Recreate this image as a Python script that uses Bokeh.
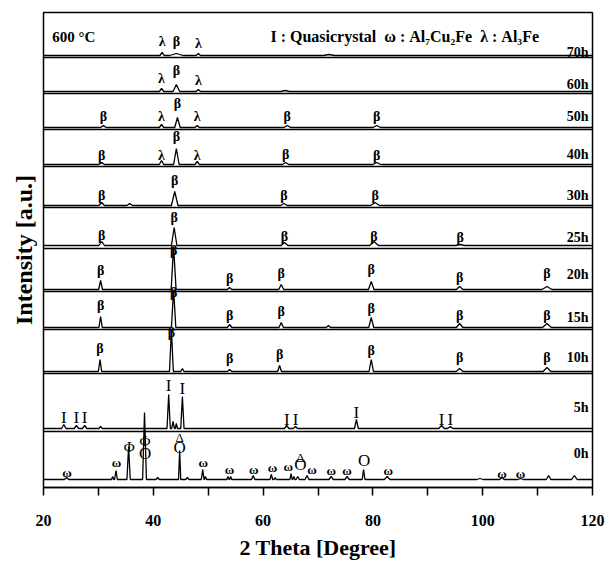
from bokeh.plotting import figure
from bokeh.models import FixedTicker, Label
from bokeh.core.properties import value
from bokeh.embed import file_html
from bokeh.resources import INLINE

# ---------------- data ----------------
samples = ["0h", "5h", "10h", "15h", "20h", "25h", "30h", "40h", "50h", "60h", "70h"]

# peaks: (2theta [deg], height [a.u. ~ px], half base width [deg])
peaks_0h = [(24.2, 2, 0.4), (32.6, 3, 0.2), (33.2, 9, 0.25), (35.5, 33, 0.3), (38.4, 67, 0.35),
            (40.8, 2, 0.3), (44.8, 29, 0.2), (46.2, 2, 0.3), (49.0, 10, 0.25), (49.5, 3, 0.2),
            (53.6, 3, 0.2), (54.1, 3, 0.2), (58.2, 4, 0.3), (61.5, 5, 0.25), (62.2, 2, 0.2),
            (65.1, 6, 0.2), (65.6, 3, 0.2), (66.3, 3, 0.3), (68.0, 4, 0.35), (72.4, 3, 0.4),
            (75.3, 3, 0.4), (78.3, 10, 0.25), (82.6, 3, 0.5), (99.5, 1, 0.6), (103.5, 2, 0.4),
            (106.9, 1, 0.5), (112.0, 4, 0.4), (116.7, 4, 0.5)]
peaks_5h = [(23.7, 4, 0.4), (26.0, 3, 0.4), (27.5, 3, 0.4), (30.4, 2, 0.3), (42.8, 34, 0.3),
            (43.6, 7, 0.25), (44.2, 5, 0.2), (45.3, 32, 0.3), (64.3, 3, 0.4), (65.9, 2, 0.4),
            (77.0, 9, 0.35), (92.5, 3, 0.5), (94.1, 2, 0.5)]
peaks_10h = [(30.3, 12, 0.3), (43.3, 42, 0.35), (45.3, 3, 0.3), (53.9, 2, 0.4), (63.0, 6, 0.35),
             (79.7, 12, 0.4), (95.8, 3, 0.6), (111.7, 4, 0.7)]
peaks_15h = [(30.4, 11, 0.3), (43.7, 38, 0.4), (53.9, 3, 0.4), (63.3, 5, 0.4), (71.9, 2, 0.4),
             (79.7, 10, 0.45), (95.8, 4, 0.6), (111.7, 4, 0.8)]
peaks_20h = [(30.4, 9, 0.35), (43.7, 43, 0.45), (53.9, 2, 0.4), (63.3, 5, 0.45), (79.7, 8, 0.5),
             (95.8, 3, 0.6), (111.7, 3, 0.9)]
peaks_25h = [(30.6, 4, 0.5), (43.8, 18, 0.5), (63.9, 3, 0.6), (80.2, 4, 0.8), (95.9, 1, 0.8)]
peaks_30h = [(30.6, 3, 0.5), (35.7, 2, 0.5), (43.9, 14, 0.6), (63.8, 2, 0.6), (80.4, 3, 0.8)]
peaks_40h = [(30.6, 2, 0.5), (41.5, 4, 0.4), (44.2, 16, 0.5), (48.0, 3, 0.4), (64.1, 2, 0.6), (80.7, 2, 0.7)]
peaks_50h = [(30.9, 2, 0.5), (41.5, 3, 0.4), (44.4, 10, 0.5), (48.0, 2, 0.4), (64.4, 2, 0.6), (80.7, 2, 0.7)]
peaks_60h = [(41.5, 3, 0.4), (44.2, 7, 0.6), (48.2, 2, 0.4), (64.0, 1, 0.8)]
peaks_70h = [(41.6, 3, 0.4), (44.2, 2, 1.2), (48.2, 2, 0.4), (72.0, 1, 1.0)]

# phase marks: (symbol, 2theta, height of mark above the pattern)
marks_0h = [("ω", 24.3, 7), ("ω", 33.3, 17), ("Φ", 35.6, 33), ("Φ", 38.5, 39), ("O", 38.5, 26),
            ("Δ", 44.8, 42), ("O", 44.8, 32), ("ω", 49.1, 17), ("ω", 53.9, 10), ("ω", 58.3, 10),
            ("ω", 61.7, 12), ("ω", 64.6, 13), ("Δ", 66.8, 22), ("O", 66.8, 15), ("ω", 68.9, 10),
            ("ω", 72.4, 9), ("ω", 75.3, 9), ("O", 78.4, 19), ("ω", 82.8, 9), ("ω", 103.5, 6),
            ("ω", 106.9, 6)]
marks_5h = [("I", 23.7, 11), ("I", 26.0, 11), ("I", 27.5, 11), ("I", 42.8, 43), ("I", 45.3, 40),
            ("I", 64.3, 9), ("I", 65.9, 9), ("I", 77.0, 16), ("I", 92.5, 9), ("I", 94.1, 9)]
marks_10h = [("β", 30.3, 23), ("β", 43.3, 39), ("β", 53.9, 13), ("β", 63.0, 17), ("β", 79.7, 21),
             ("β", 95.8, 14), ("β", 111.7, 14)]
marks_15h = [("β", 30.4, 22), ("β", 43.7, 35), ("β", 53.9, 12), ("β", 63.3, 16), ("β", 79.7, 19),
             ("β", 95.8, 12), ("β", 111.7, 12)]
marks_20h = [("β", 30.4, 19), ("β", 43.7, 39), ("β", 53.9, 11), ("β", 63.3, 16), ("β", 79.7, 20),
             ("β", 95.8, 12), ("β", 111.7, 16)]
marks_25h = [("β", 30.6, 10), ("β", 43.8, 28), ("β", 63.9, 9), ("β", 80.2, 9), ("β", 95.9, 8)]
marks_30h = [("β", 30.6, 10), ("β", 43.9, 25), ("β", 63.8, 10), ("β", 80.4, 10)]
marks_40h = [("β", 30.6, 9), ("λ", 41.5, 9), ("β", 44.2, 28), ("λ", 48.0, 9), ("β", 64.1, 10), ("β", 80.7, 9)]
marks_50h = [("β", 30.9, 11), ("λ", 41.5, 11), ("β", 44.4, 24), ("λ", 48.0, 11), ("β", 64.4, 11), ("β", 80.7, 11)]
marks_60h = [("λ", 41.5, 13), ("β", 44.2, 21), ("λ", 48.2, 11)]
marks_70h = [("λ", 41.6, 14), ("β", 44.2, 14), ("λ", 48.2, 12)]

x_ticks = [20, 40, 60, 80, 100, 120]
x_minor = [30, 50, 70, 90, 110]
title_left = "600 °C"
title_right = "I : Quasicrystal\u00a0\u00a0ω : Al₇Cu₂Fe\u00a0\u00a0λ : Al₃Fe"
x_title = "2 Theta [Degree]"
y_title = "Intensity [a.u.]"

peaks = {"0h": peaks_0h, "5h": peaks_5h, "10h": peaks_10h, "15h": peaks_15h, "20h": peaks_20h,
         "25h": peaks_25h, "30h": peaks_30h, "40h": peaks_40h, "50h": peaks_50h,
         "60h": peaks_60h, "70h": peaks_70h}
marks = {"0h": marks_0h, "5h": marks_5h, "10h": marks_10h, "15h": marks_15h, "20h": marks_20h,
         "25h": marks_25h, "30h": marks_30h, "40h": marks_40h, "50h": marks_50h,
         "60h": marks_60h, "70h": marks_70h}

# ---------------- layout (stacking offsets) ----------------
baseline = {"0h": 8, "5h": 59, "10h": 116, "15h": 160, "20h": 198, "25h": 242,
            "30h": 282, "40h": 323, "50h": 360, "60h": 396, "70h": 432}
separators = [56, 114, 158, 196, 239, 280, 321, 358, 394, 430]
name_y = {"0h": 34, "5h": 80, "10h": 130, "15h": 170, "20h": 213, "25h": 250,
          "30h": 292, "40h": 333, "50h": 371, "60h": 403, "70h": 435}

FONT = value("Liberation Serif")
mark_size = {"β": "14px", "λ": "14px", "I": "17px", "ω": "13px", "Φ": "15px", "O": "17px", "Δ": "13px"}
mark_style = {"β": "bold", "λ": "bold", "I": "normal", "ω": "bold", "Φ": "normal", "O": "normal", "Δ": "normal"}

p = figure(width=606, height=563, x_range=(20, 120), y_range=(0, 475),
           output_backend="svg", toolbar_location=None,
           min_border_left=43, min_border_right=14, min_border_top=12, min_border_bottom=76)
p.grid.visible = False
p.outline_line_color = "black"
p.outline_line_width = 1.5
p.background_fill_color = "white"
p.border_fill_color = "white"

# separators between stacked patterns
for s in separators:
    p.line([20, 120], [s, s], line_color="#000000", line_width=1.3)

for name in samples:
    b = baseline[name]
    xs, ys = [20.0], [b]
    for c, h, w in sorted(peaks[name]):
        xs += [c - w, c, c + w]
        ys += [b, b + h, b]
    xs.append(120.0)
    ys.append(b)
    p.line(xs, ys, line_color="#000000", line_width=1.3)

    groups = {}
    for sym, x, dy in marks[name]:
        groups.setdefault(sym, ([], [], []))
        groups[sym][0].append(x)
        groups[sym][1].append(b + dy)
        groups[sym][2].append(sym)
    for sym, (gx, gy, gt) in groups.items():
        p.text(x=gx, y=gy, text=gt, text_font=FONT, text_font_size=mark_size[sym],
               text_font_style=mark_style[sym],
               text_align="center", text_baseline="middle", text_color="#000000")

names = list(samples)
p.text(x=[119.3] * len(names), y=[name_y[n] for n in names], text=names, text_font=FONT,
       text_font_size="14px", text_font_style="bold", text_align="right",
       text_baseline="middle", text_color="#000000")

p.add_layout(Label(x=21.6, y=451, text=title_left, text_font="Liberation Serif",
                   text_font_size="15px", text_font_style="bold", text_baseline="middle",
                   text_color="#000000"))
p.add_layout(Label(x=85.8, y=451, text=title_right, text_font="Liberation Serif",
                   text_font_size="16px", text_font_style="bold", text_baseline="middle",
                   text_align="center", text_color="#000000"))

# x axis
p.xaxis.ticker = FixedTicker(ticks=x_ticks, minor_ticks=x_minor)
p.xaxis.major_tick_out = 8
p.xaxis.major_tick_in = 0
p.xaxis.minor_tick_out = 8
p.xaxis.minor_tick_in = 0
p.xaxis.axis_line_width = 1.5
p.xaxis.major_tick_line_width = 1.5
p.xaxis.minor_tick_line_width = 1.5
p.xaxis.major_label_text_font = "Liberation Serif"
p.xaxis.major_label_text_font_style = "bold"
p.xaxis.major_label_text_font_size = "16px"
p.xaxis.major_label_text_color = "#000000"
p.xaxis.major_label_standoff = 19
p.xaxis.axis_label = x_title
p.xaxis.axis_label_text_font = "Liberation Serif"
p.xaxis.axis_label_text_font_style = "bold"
p.xaxis.axis_label_text_font_size = "22px"
p.xaxis.axis_label_text_color = "#000000"
p.xaxis.axis_label_standoff = 6

# y axis (label only)
p.yaxis.ticker = FixedTicker(ticks=[])
p.yaxis.axis_line_color = None
p.yaxis.major_tick_line_color = None
p.yaxis.minor_tick_line_color = None
p.yaxis.major_tick_out = 0
p.yaxis.major_label_standoff = 0
p.yaxis.major_label_text_font_size = "0px"
p.yaxis.axis_label = y_title
p.yaxis.axis_label_text_font = "Liberation Serif"
p.yaxis.axis_label_text_font_style = "bold"
p.yaxis.axis_label_text_font_size = "24px"
p.yaxis.axis_label_text_color = "#000000"
p.yaxis.axis_label_standoff = 7

open("out.html", "w").write(file_html(p, INLINE))
